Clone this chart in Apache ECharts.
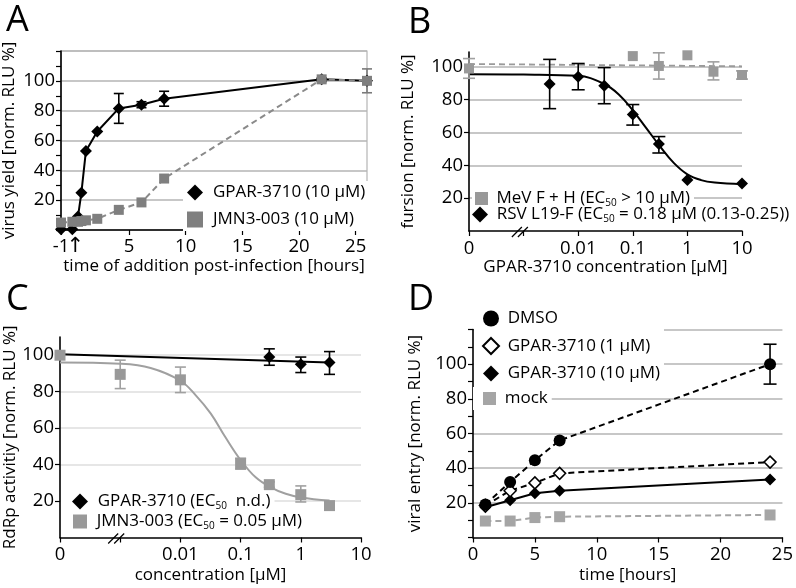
<!DOCTYPE html>
<html><head><meta charset="utf-8">
<script src="https://cdn.jsdelivr.net/npm/echarts@6/dist/echarts.min.js"></script>
<style>html,body{margin:0;padding:0;background:#fff}#c{width:796px;height:588px}</style>
</head><body><div id="c"></div><script>
// ---------- Panel A: time of addition ----------
const A_time      = [-1, 0, 0.5, 0.8, 1.2, 2.2, 4.1, 6.1, 8.1, 22, 26];
const A_gpar      = [0.5, 0.5, 9, 25, 53, 66, 81.5, 84, 88, 101, 100];
const A_jmn       = [5, 5.5, 5.5, 6, 6.5, 7.5, 13.5, 18.5, 34.5, 101, 100];
const A_gparErrT  = [4.1, 6.1, 8.1, 22];
const A_gparErrLo = [71.5, 82, 83, 99.5];
const A_gparErrHi = [91.5, 86, 93, 102];
const A_jmnErrT   = [26];
const A_jmnErrLo  = [92];
const A_jmnErrHi  = [108];
const A_xTicks    = [-1, 5, 10, 15, 20, 25];
const A_infection = 0;   // time of infection, marked with an arrow

// ---------- Panel B: fusion ----------
const B_mevConc   = [0, 0.1, 0.3, 1, 3, 10];
const B_mev       = [99, 106.5, 100.5, 107, 97, 95];
const B_mevErrC   = [0, 0.3, 3, 10];
const B_mevErrLo  = [93, 92.5, 92, 92.5];
const B_mevErrHi  = [105, 108.5, 103, 97.5];
const B_mevFitC   = [0, 10];
const B_mevFit    = [101.7, 100.3];
const B_rsvConc   = [0.003, 0.01, 0.03, 0.1, 0.3, 1, 10];
const B_rsv       = [89.5, 94, 88.5, 71, 53, 31, 29];
const B_rsvErrC   = [0.003, 0.01, 0.03, 0.1, 0.3];
const B_rsvErrLo  = [74.5, 86, 77.5, 64.5, 47.5];
const B_rsvErrHi  = [104.5, 102, 99.5, 77, 57.5];
const B_rsvFitC   = [0, 0.001, 0.01, 0.03, 0.056, 0.1, 0.178, 0.316, 0.562, 1, 1.78, 3.16, 10];
const B_rsvFit    = [95.5, 95.3, 94.5, 89.5, 83, 73.5, 62.5, 51.5, 41.5, 34.5, 31, 29.5, 28.5];

// ---------- Panel C: RdRp activity ----------
const C_gparConc  = [0.3, 1, 3];
const C_gpar      = [99, 95, 96];
const C_gparErrLo = [94.5, 90.5, 89.5];
const C_gparErrHi = [103.5, 99, 102];
const C_gparFitC  = [0, 3];
const C_gparFit   = [100.5, 96];
const C_jmnConc   = [0, 0.001, 0.01, 0.1, 0.3, 1, 3];
const C_jmn       = [100, 89.5, 86.5, 40.5, 29, 23.5, 17.5];
const C_jmnErrC   = [0.001, 0.01, 0.1, 0.3, 1];
const C_jmnErrLo  = [81.7, 79.5, 37.5, 27.5, 19.5];
const C_jmnErrHi  = [97.3, 93.5, 43.5, 30.5, 28.3];
const C_jmnFitC   = [0, 0.001, 0.0032, 0.01, 0.018, 0.032, 0.056, 0.1, 0.178, 0.316, 0.562, 1, 3];
const C_jmnFit    = [96, 95.3, 93, 86, 78, 68, 55, 42.5, 33, 27.5, 24, 22, 20.3];

// ---------- Panel D: viral entry ----------
const D_time      = [1, 3, 5, 7, 24];
const D_dmso      = [19, 32, 44.5, 56, 100];
const D_g1        = [18.5, 27, 31.5, 37, 43.5];
const D_g10       = [17.5, 21.5, 25.5, 27, 33.5];
const D_mock      = [9.5, 9.5, 11.5, 12, 13];
const D_dmsoErrT  = [24];
const D_dmsoErrLo = [88.5];
const D_dmsoErrHi = [111.5];

// log-axis helpers: "0" concentration is drawn at the axis origin (1e-4), break mark at 10^-3.05
const LOG_ZERO = 1e-4;
const BREAK_AT = Math.pow(10, -3.05);
const LOG_LABELS = {'-4': '0', '-3': '', '-2': '0.01', '-1': '0.1', '0': '1', '1': '10'};

const FONT = 'Open Sans';
const zipXY = (xs, ys) => xs.map((x, i) => [x, ys[i]]);
const conc = v => (v === 0 ? LOG_ZERO : v);
const zipC = (xs, ys) => xs.map((x, i) => [conc(x), ys[i]]);
const zipErr = (xs, lo, hi, f) => xs.map((x, i) => [f ? f(x) : x, lo[i], hi[i]]);

function errSeries(idx, data, color, cap, lw) {
  return {
    type: 'custom', xAxisIndex: idx, yAxisIndex: idx, z: 3, silent: true, clip: false,
    encode: {x: 0, y: [1, 2]},
    data: data,
    renderItem: function (params, api) {
      const x = api.value(0);
      const lo = api.coord([x, api.value(1)]);
      const hi = api.coord([x, api.value(2)]);
      const st = {stroke: color, lineWidth: lw || 1.6};
      return {type: 'group', children: [
        {type: 'line', shape: {x1: lo[0], y1: lo[1], x2: hi[0], y2: hi[1]}, style: st},
        {type: 'line', shape: {x1: lo[0] - cap, y1: lo[1], x2: lo[0] + cap, y2: lo[1]}, style: st},
        {type: 'line', shape: {x1: hi[0] - cap, y1: hi[1], x2: hi[0] + cap, y2: hi[1]}, style: st}
      ]};
    }
  };
}
function breakSeries(idx) {
  return {
    type: 'custom', xAxisIndex: idx, yAxisIndex: idx, z: 6, silent: true, clip: false,
    data: [[BREAK_AT, 0]],
    renderItem: function (params, api) {
      const p = api.coord([api.value(0), api.value(1)]);
      const st = {stroke: '#000', lineWidth: 1.3};
      return {type: 'group', children: [
        {type: 'line', shape: {x1: p[0] - 9, y1: p[1] + 6, x2: p[0] + 1, y2: p[1] - 4}, style: st},
        {type: 'line', shape: {x1: p[0] - 3, y1: p[1] + 6, x2: p[0] + 7, y2: p[1] - 4}, style: st}
      ]};
    }
  };
}

const axisLine = {show: true, onZero: false, lineStyle: {color: '#000', width: 1.6}};
const tickStyle = {show: true, length: 5, lineStyle: {color: '#000', width: 1.2}};
const labelStyle = {color: '#000', fontSize: 18.5, fontFamily: FONT};
const nameStyle = {color: '#000', fontSize: 17, fontFamily: FONT};

const LABELS = {
  a1: 'GPAR-3710 (10 μM)',
  a2: 'JMN3-003 (10 μM)',
  b1: 'MeV F + H (EC{s|50} > 10 μM)',
  b2: 'RSV L19-F (EC{s|50} = 0.18 μM (0.13-0.25))',
  c1: 'GPAR-3710 (EC{s|50}  n.d.)',
  c2: 'JMN3-003 (EC{s|50} = 0.05 μM)',
  d1: 'DMSO',
  d2: 'GPAR-3710 (1 μM)',
  d3: 'GPAR-3710 (10 μM)',
  d4: 'mock'
};
function legend(names, left, top, size, pad, textPad, gap) {
  return {
    orient: 'vertical', left: left, top: top, itemWidth: size, itemHeight: size,
    itemGap: gap || 8, padding: pad, backgroundColor: '#fff', selectedMode: false,
    data: names,
    formatter: n => LABELS[n],
    textStyle: {color: '#000', fontSize: 17, fontFamily: FONT, padding: [0, 0, 0, textPad],
      rich: {s: {fontSize: 10, fontFamily: FONT, color: '#000', padding: [9, 0, 0, 0]}}}
  };
}
const letterStyle = {fontSize: 36, fontWeight: 'normal', fontFamily: FONT, color: '#000'};

const option = {
  animation: false,
  backgroundColor: '#fff',
  title: [
    {text: 'A', left: 1, top: -2, textStyle: letterStyle},
    {text: 'B', left: 403, top: 0, textStyle: letterStyle},
    {text: 'C', left: 1, top: 277, textStyle: letterStyle},
    {text: 'D', left: 403, top: 277, textStyle: letterStyle}
  ],
  grid: [
    {left: 61, top: 51, width: 306, height: 179, show: true, borderColor: '#b5b5b5', borderWidth: 1.2},
    {left: 469, top: 52, width: 273, height: 179},
    {left: 60, top: 337, width: 301, height: 200.5},
    {left: 473, top: 329.5, width: 313, height: 208}
  ],
  xAxis: [
    {gridIndex: 0, type: 'value', min: -1, max: 26, axisLine: axisLine,
      axisTick: Object.assign({customValues: A_xTicks}, tickStyle),
      axisLabel: Object.assign({customValues: A_xTicks, margin: 7, showMinLabel: true}, labelStyle),
      splitLine: {show: false},
      name: 'time of addition post-infection [hours]', nameLocation: 'middle', nameGap: 28, nameTextStyle: nameStyle},
    {gridIndex: 1, type: 'log', logBase: 10, min: LOG_ZERO, max: 10, axisLine: axisLine, axisTick: tickStyle,
      axisLabel: Object.assign({margin: 8, formatter: v => LOG_LABELS[String(Math.round(Math.log10(v)))]}, labelStyle),
      splitLine: {show: false}, minorTick: {show: false},
      name: 'GPAR-3710 concentration [μM]', nameLocation: 'middle', nameGap: 27, nameTextStyle: nameStyle},
    {gridIndex: 2, type: 'log', logBase: 10, min: LOG_ZERO, max: 10, axisLine: axisLine, axisTick: tickStyle,
      axisLabel: Object.assign({margin: 8, formatter: v => LOG_LABELS[String(Math.round(Math.log10(v)))]}, labelStyle),
      splitLine: {show: false}, minorTick: {show: false},
      name: 'concentration [μM]', nameLocation: 'middle', nameGap: 29, nameTextStyle: nameStyle},
    {gridIndex: 3, type: 'value', min: 0, max: 25, interval: 5, axisLine: axisLine, axisTick: tickStyle,
      axisLabel: Object.assign({margin: 8}, labelStyle), splitLine: {show: false},
      name: 'time [hours]', nameLocation: 'middle', nameGap: 29, nameTextStyle: nameStyle}
  ],
  yAxis: [
    {gridIndex: 0, type: 'value', min: 0, max: 120, interval: 20, axisLine: axisLine, axisTick: tickStyle,
      minorTick: {show: true, splitNumber: 2, length: 5, lineStyle: {color: '#000', width: 1.2}},
      axisLabel: Object.assign({margin: 6, showMinLabel: false, showMaxLabel: false}, labelStyle),
      splitLine: {show: true, lineStyle: {color: '#b5b5b5', width: 1.5}},
      name: 'virus yield [norm. RLU %]', nameLocation: 'middle', nameGap: 43, nameTextStyle: nameStyle},
    {gridIndex: 1, type: 'value', min: 0, max: 109, interval: 20, axisLine: axisLine, axisTick: tickStyle,
      axisLabel: Object.assign({margin: 6, showMinLabel: false, showMaxLabel: false}, labelStyle),
      splitLine: {show: true, showMinLine: false, showMaxLine: false, lineStyle: {color: '#b5b5b5', width: 1.5}},
      name: 'fursion [norm. RLU %]', nameLocation: 'middle', nameGap: 52, nameTextStyle: nameStyle},
    {gridIndex: 2, type: 'value', min: 0, max: 110, interval: 20, axisLine: axisLine, axisTick: tickStyle,
      axisLabel: Object.assign({margin: 6, showMinLabel: false, showMaxLabel: false}, labelStyle),
      splitLine: {show: true, showMinLine: false, showMaxLine: false, lineStyle: {color: '#dedede', width: 1.5}},
      name: 'RdRp activitiy [norm. RLU %]', nameLocation: 'middle', nameGap: 39, nameTextStyle: nameStyle},
    {gridIndex: 3, type: 'value', min: 0, max: 120, interval: 20, axisLine: axisLine, axisTick: tickStyle,
      minorTick: {show: true, splitNumber: 2, length: 5, lineStyle: {color: '#000', width: 1.2}},
      axisLabel: Object.assign({margin: 6, showMinLabel: false, showMaxLabel: false}, labelStyle),
      splitLine: {show: true, showMinLine: false, lineStyle: {color: '#b5b5b5', width: 1.5}},
      name: 'viral entry [norm. RLU %]', nameLocation: 'middle', nameGap: 49, nameTextStyle: nameStyle}
  ],
  legend: [
    legend([{name: 'a1', icon: 'diamond'}, {name: 'a2', icon: 'rect'}], 183, 181, 16, [3, 4, 3, 4], 5, 10),
    legend([{name: 'b1', icon: 'rect'}], 472, 188, 13, [2, 4, 2, 3], 3.5),
    legend([{name: 'b2', icon: 'diamond'}], 470, 204, 16, [2, 2, 2, 2], 3.7),
    legend([{name: 'c1', icon: 'diamond'}], 61, 490, 16, [3, 4, 3, 11], 4.7),
    legend([{name: 'c2', icon: 'rect'}], 70, 510, 14, [3, 4, 3, 3], 4.7),
    legend([{name: 'd1', icon: 'circle'},
            {name: 'd2', icon: 'diamond', itemStyle: {color: '#fff', borderColor: '#000', borderWidth: 2}},
            {name: 'd3', icon: 'diamond'}], 474, 307, 16, [3, 4, 3, 8], 3.7, 10),
    legend([{name: 'd4', icon: 'rect'}], 473, 387, 13, [3, 4, 3, 10], 3.7)
  ],
  series: [
    // A
    errSeries(0, zipErr(A_gparErrT, A_gparErrLo, A_gparErrHi), '#000', 5),
    {name: 'a1', type: 'line', xAxisIndex: 0, yAxisIndex: 0, z: 4, data: zipXY(A_time, A_gpar),
      symbol: 'diamond', symbolSize: 12, itemStyle: {color: '#000'}, lineStyle: {color: '#000', width: 2}},
    errSeries(0, zipErr(A_jmnErrT, A_jmnErrLo, A_jmnErrHi), '#7a7a7a', 5),
    {name: 'a2', type: 'line', xAxisIndex: 0, yAxisIndex: 0, z: 5, data: zipXY(A_time, A_jmn),
      symbol: 'rect', symbolSize: 10, itemStyle: {color: '#7f7f7f'}, lineStyle: {color: '#8a8a8a', width: 2, type: [6, 4]}},
    {type: 'custom', xAxisIndex: 0, yAxisIndex: 0, z: 6, silent: true, clip: false,
      data: [[A_infection, 0]],
      renderItem: function (params, api) {
        const p = api.coord([api.value(0), api.value(1)]);
        return {type: 'text', x: p[0] + 3, y: p[1] + 6,
          style: {text: '↑', fontSize: 21, fontFamily: 'DejaVu Sans', fill: '#000', align: 'center', verticalAlign: 'top'}};
      }},
    // B
    {name: 'bfit1', type: 'line', xAxisIndex: 1, yAxisIndex: 1, z: 2, data: zipC(B_mevFitC, B_mevFit),
      symbol: 'none', lineStyle: {color: '#9a9a9a', width: 1.8, type: [6, 4]}},
    {name: 'bfit2', type: 'line', xAxisIndex: 1, yAxisIndex: 1, z: 2, data: zipC(B_rsvFitC, B_rsvFit), smooth: 0.4,
      symbol: 'none', lineStyle: {color: '#000', width: 2}},
    errSeries(1, zipErr(B_mevErrC, B_mevErrLo, B_mevErrHi, conc), '#a0a0a0', 6),
    {name: 'b1', type: 'line', xAxisIndex: 1, yAxisIndex: 1, z: 4, data: zipC(B_mevConc, B_mev),
      symbol: 'rect', symbolSize: 10, itemStyle: {color: '#999'}, lineStyle: {width: 0}},
    errSeries(1, zipErr(B_rsvErrC, B_rsvErrLo, B_rsvErrHi, conc), '#000', 6.5),
    {name: 'b2', type: 'line', xAxisIndex: 1, yAxisIndex: 1, z: 5, data: zipC(B_rsvConc, B_rsv),
      symbol: 'diamond', symbolSize: 12, itemStyle: {color: '#000'}, lineStyle: {width: 0}},
    breakSeries(1),
    // C
    {name: 'cfit1', type: 'line', xAxisIndex: 2, yAxisIndex: 2, z: 2, data: zipC(C_gparFitC, C_gparFit),
      symbol: 'none', lineStyle: {color: '#000', width: 2}},
    {name: 'cfit2', type: 'line', xAxisIndex: 2, yAxisIndex: 2, z: 2, data: zipC(C_jmnFitC, C_jmnFit), smooth: 0.4,
      symbol: 'none', lineStyle: {color: '#a0a0a0', width: 2}},
    errSeries(2, zipErr(C_gparConc, C_gparErrLo, C_gparErrHi, conc), '#000', 5.5),
    {name: 'c1', type: 'line', xAxisIndex: 2, yAxisIndex: 2, z: 4, data: zipC(C_gparConc, C_gpar),
      symbol: 'diamond', symbolSize: 12, itemStyle: {color: '#000'}, lineStyle: {width: 0}},
    errSeries(2, zipErr(C_jmnErrC, C_jmnErrLo, C_jmnErrHi, conc), '#a0a0a0', 5.5),
    {name: 'c2', type: 'line', xAxisIndex: 2, yAxisIndex: 2, z: 5, data: zipC(C_jmnConc, C_jmn),
      symbol: 'rect', symbolSize: 11, itemStyle: {color: '#999'}, lineStyle: {width: 0}},
    breakSeries(2),
    // D
    {name: 'd4', type: 'line', xAxisIndex: 3, yAxisIndex: 3, z: 4, data: zipXY(D_time, D_mock),
      symbol: 'rect', symbolSize: 11, itemStyle: {color: '#a5a5a5'}, lineStyle: {color: '#a5a5a5', width: 2, type: [6, 4]}},
    {name: 'd3', type: 'line', xAxisIndex: 3, yAxisIndex: 3, z: 4, data: zipXY(D_time, D_g10),
      symbol: 'diamond', symbolSize: 12, itemStyle: {color: '#000'}, lineStyle: {color: '#000', width: 2}},
    {name: 'd2', type: 'line', xAxisIndex: 3, yAxisIndex: 3, z: 4, data: zipXY(D_time, D_g1),
      symbol: 'diamond', symbolSize: 12, showAllSymbol: true,
      itemStyle: {color: '#fff', borderColor: '#000', borderWidth: 1.5}, lineStyle: {color: '#000', width: 2, type: [6, 4]}},
    errSeries(3, zipErr(D_dmsoErrT, D_dmsoErrLo, D_dmsoErrHi), '#000', 6.5),
    {name: 'd1', type: 'line', xAxisIndex: 3, yAxisIndex: 3, z: 5, data: zipXY(D_time, D_dmso),
      symbol: 'circle', symbolSize: 12, itemStyle: {color: '#000'}, lineStyle: {color: '#000', width: 2, type: [6, 4]}}
  ]
};
const chart = echarts.init(document.getElementById('c'), null, {renderer: 'canvas'});
chart.setOption(option);
</script></body></html>
